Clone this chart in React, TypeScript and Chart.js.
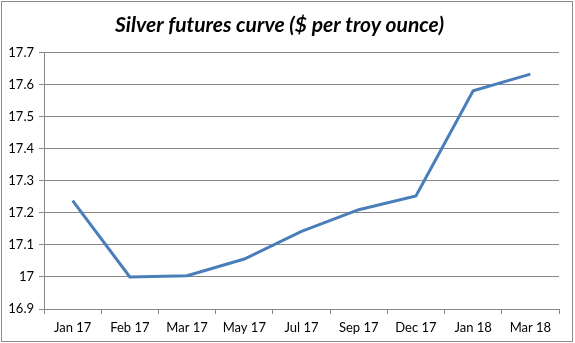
import React, { useEffect, useRef } from "react";
import { Chart, registerables } from "chart.js";

Chart.register(...registerables);

const categories = ["Jan 17", "Feb 17", "Mar 17", "May 17", "Jul 17", "Sep 17", "Dec 17", "Jan 18", "Mar 18"];
const prices = [17.238, 17.0, 17.004, 17.056, 17.142, 17.21, 17.253, 17.581, 17.633];
const yMin = 16.9;
const yMax = 17.7;
const yStep = 0.1;
const titleText = "Silver futures curve ($ per troy ounce)";

const borderPlugin = {
  id: "outerBorder",
  beforeDraw(chart: any) {
    const ctx = chart.ctx;
    ctx.save();
    ctx.fillStyle = "#ffffff";
    ctx.fillRect(0, 0, chart.width, chart.height);
    ctx.strokeStyle = "#8c8c8c";
    ctx.lineWidth = 1;
    ctx.strokeRect(1.5, 1.5, chart.width - 4, chart.height - 3);
    ctx.restore();
  },
};

export default function App() {
  const ref = useRef<HTMLCanvasElement>(null);
  useEffect(() => {
    if (!ref.current) return;
    const chart = new Chart(ref.current, {
      type: "line",
      data: {
        labels: categories,
        datasets: [
          {
            data: prices,
            borderColor: "#4a7ebb",
            borderWidth: 3,
            pointRadius: 0,
            tension: 0,
            fill: false,
          },
        ],
      },
      plugins: [borderPlugin],
      options: {
        animation: false,
        responsive: false,
        maintainAspectRatio: false,
        layout: { padding: { left: 0, right: 16, top: 0, bottom: 0 } },
        plugins: {
          legend: { display: false },
          tooltip: { enabled: false },
          title: {
            display: true,
            text: titleText,
            color: "#000000",
            font: { family: "Lato", size: 21, weight: "bold", style: "italic", lineHeight: 1.2 },
            padding: { top: 13, bottom: 14.5 },
          },
        },
        scales: {
          x: {
            offset: true,
            grid: {
              display: true,
              drawOnChartArea: false,
              drawTicks: true,
              tickLength: 5,
              color: "#878787",
              offset: true,
            },
            border: { display: true, color: "#878787", width: 1 },
            ticks: {
              color: "#000000",
              font: { family: "Lato", size: 13 },
              padding: 6,
              maxRotation: 0,
              autoSkip: false,
            },
            afterFit(scale: any) {
              scale.height = 34;
            },
          },
          y: {
            min: yMin,
            max: yMax,
            grid: {
              color: "#878787",
              tickLength: 5,
              lineWidth: 1,
            },
            border: { display: true, color: "#878787", width: 1 },
            ticks: {
              stepSize: yStep,
              color: "#000000",
              font: { family: "Lato", size: 13 },
              padding: 5,
              callback: (v: any) => String(Number(Number(v).toFixed(1))),
            },
            afterFit(scale: any) {
              scale.width = 44;
            },
          },
        },
      },
    });
    return () => chart.destroy();
  }, []);
  return (
    <div style={{ position: "fixed", left: 0, top: 0, width: 575, height: 343, background: "#fff" }}>
      <canvas ref={ref} width={575} height={343} style={{ width: 575, height: 343, display: "block" }} />
    </div>
  );
}
